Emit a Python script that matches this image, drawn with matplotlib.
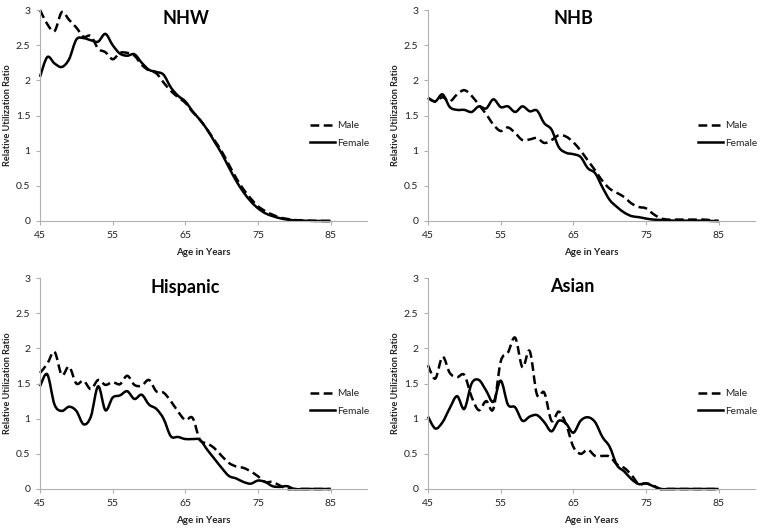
import numpy as np
import matplotlib
matplotlib.use("Agg")
import matplotlib.pyplot as plt
from matplotlib.path import Path
from matplotlib.patches import PathPatch
from matplotlib.lines import Line2D

plt.rcParams['font.family'] = ['Lato', 'DejaVu Sans']

ages = np.arange(45, 86)

nhwMale = [3.0, 2.8, 2.7, 2.97, 2.86, 2.75, 2.62, 2.63, 2.45, 2.4, 2.3, 2.39, 2.39, 2.35, 2.22, 2.14, 2.1,
           1.97, 1.85, 1.76, 1.68, 1.55, 1.44, 1.3, 1.15, 0.99, 0.8, 0.61, 0.45, 0.32, 0.21, 0.14, 0.09,
           0.05, 0.03, 0.015, 0.008, 0.004, 0.002, 0.001, 0.0]
nhwFemale = [2.05, 2.33, 2.24, 2.19, 2.3, 2.58, 2.6, 2.57, 2.55, 2.66, 2.5, 2.38, 2.35, 2.37, 2.25, 2.15,
             2.12, 2.08, 1.9, 1.78, 1.7, 1.56, 1.44, 1.3, 1.13, 0.96, 0.76, 0.57, 0.41, 0.28, 0.18, 0.11,
             0.07, 0.04, 0.02, 0.01, 0.005, 0.003, 0.001, 0.0, 0.0]
nhbMale = [1.75, 1.7, 1.76, 1.7, 1.8, 1.86, 1.78, 1.65, 1.52, 1.37, 1.28, 1.33, 1.25, 1.15, 1.16, 1.18,
           1.11, 1.15, 1.22, 1.2, 1.12, 1.0, 0.86, 0.72, 0.57, 0.46, 0.4, 0.34, 0.25, 0.2, 0.18, 0.1, 0.04,
           0.02, 0.02, 0.02, 0.02, 0.02, 0.02, 0.01, 0.0]
nhbFemale = [1.75, 1.7, 1.8, 1.62, 1.58, 1.58, 1.55, 1.63, 1.6, 1.73, 1.62, 1.63, 1.55, 1.63, 1.56, 1.57,
             1.39, 1.3, 1.05, 0.97, 0.95, 0.91, 0.75, 0.68, 0.48, 0.3, 0.2, 0.12, 0.07, 0.055, 0.035, 0.02,
             0.015, 0.01, 0.005, 0.005, 0.005, 0.005, 0.005, 0.0, 0.0]
hispMale = [1.65, 1.78, 1.95, 1.62, 1.74, 1.5, 1.54, 1.42, 1.55, 1.48, 1.52, 1.49, 1.61, 1.48, 1.47, 1.55,
            1.39, 1.37, 1.25, 1.1, 0.98, 1.01, 0.7, 0.65, 0.58, 0.47, 0.37, 0.32, 0.3, 0.25, 0.18, 0.1, 0.1,
            0.05, 0.0, 0.0, 0.0, 0.0, 0.0, 0.0, 0.0]
hispFemale = [1.46, 1.63, 1.2, 1.11, 1.17, 1.11, 0.92, 1.03, 1.46, 1.12, 1.3, 1.33, 1.39, 1.28, 1.34, 1.2,
              1.14, 1.0, 0.75, 0.74, 0.71, 0.71, 0.7, 0.56, 0.43, 0.3, 0.185, 0.15, 0.1, 0.076, 0.12, 0.1,
              0.04, 0.03, 0.04, 0.0, 0.0, 0.0, 0.0, 0.0, 0.0]
asianMale = [1.76, 1.57, 1.88, 1.65, 1.59, 1.62, 1.31, 1.12, 1.25, 1.14, 1.81, 1.94, 2.15, 1.73, 1.96, 1.34,
             1.37, 0.97, 1.1, 0.92, 0.6, 0.5, 0.56, 0.47, 0.47, 0.46, 0.35, 0.3, 0.2, 0.07, 0.08, 0.05, 0.0,
             0.0, 0.0, 0.0, 0.0, 0.0, 0.0, 0.0, 0.0]
asianFemale = [1.03, 0.86, 0.95, 1.15, 1.32, 1.14, 1.5, 1.55, 1.4, 1.24, 1.54, 1.2, 1.16, 0.97, 1.03, 1.05,
               0.95, 0.82, 0.97, 0.93, 0.8, 0.97, 1.02, 0.95, 0.74, 0.6, 0.34, 0.25, 0.14, 0.07, 0.08, 0.04,
               0.0, 0.0, 0.0, 0.0, 0.0, 0.0, 0.0, 0.0, 0.0]

titles = ["NHW", "NHB", "Hispanic", "Asian"]
maleList = [nhwMale, nhbMale, hispMale, asianMale]
femaleList = [nhwFemale, nhbFemale, hispFemale, asianFemale]


def smoothPath(x, y):
    # excel style smoothed line: bezier segments through every point
    x = np.asarray(x, float)
    y = np.asarray(y, float)
    px = np.concatenate([[x[0]], x, [x[-1]]])
    py = np.concatenate([[y[0]], y, [y[-1]]])
    verts = [(x[0], y[0])]
    codes = [Path.MOVETO]
    for i in range(len(x) - 1):
        j = i + 1
        c1 = (px[j] + (px[j + 1] - px[j - 1]) / 6.0, py[j] + (py[j + 1] - py[j - 1]) / 6.0)
        c2 = (px[j + 1] - (px[j + 2] - px[j]) / 6.0, py[j + 1] - (py[j + 2] - py[j]) / 6.0)
        verts += [c1, c2, (x[i + 1], y[i + 1])]
        codes += [Path.CURVE4] * 3
    return Path(verts, codes)


W, H = 762, 529
fig = plt.figure(figsize=(W / 100, H / 100), dpi=100)

lefts = [40, 428, 40, 428]
tops = [10, 10, 278, 278]
titleX = [186, 573, 185, 572]
titleY = [18, 18, 287, 287]
axW, axH = 327, 211

lw = 1.8
dash = (0, (3.5, 1.8))
axisColor = '#b0b0b0'
textColor = '#222222'

for k in range(4):
    ax = fig.add_axes([lefts[k] / W, 1 - (tops[k] + axH) / H, axW / W, axH / H])
    for ser, ls in [(maleList[k], dash), (femaleList[k], '-')]:
        patch = PathPatch(smoothPath(ages, ser), fill=False, edgecolor='black', lw=lw,
                          linestyle=ls, transform=ax.transData, clip_on=False, capstyle='butt')
        ax.add_patch(patch)
    ax.set_xlim(45, 90)
    ax.set_ylim(0, 3)
    ax.set_xticks([45, 55, 65, 75, 85])
    ax.set_yticks([0, 0.5, 1, 1.5, 2, 2.5, 3])
    ax.set_yticklabels(["0", "0.5", "1", "1.5", "2", "2.5", "3"])
    ax.spines['top'].set_visible(False)
    ax.spines['right'].set_visible(False)
    ax.spines['left'].set_color(axisColor)
    ax.spines['bottom'].set_color(axisColor)
    ax.tick_params(axis='both', direction='out', length=3, width=0.8, color=axisColor,
                   labelsize=7.5, labelcolor=textColor)
    ax.tick_params(axis='y', pad=4)
    ax.tick_params(axis='x', pad=4)
    ax.set_xlabel("Age in Years", fontsize=7, fontweight='bold', color=textColor)
    ax.xaxis.set_label_coords(0.5, -27 / axH)
    ax.set_ylabel("Relative Utilization Ratio", fontsize=6.6, fontweight='bold', color=textColor)
    ax.yaxis.set_label_coords(-28 / axW, 0.5)
    fig.text(titleX[k] / W, 1 - titleY[k] / H, titles[k], fontsize=13, fontweight='bold',
             ha='center', va='center', color='black')
    handles = [Line2D([], [], color='black', lw=lw, linestyle=dash),
               Line2D([], [], color='black', lw=lw, linestyle='-')]
    ax.legend(handles, ["Male", "Female"], loc='center left', bbox_to_anchor=(0.826, 0.41),
              frameon=False, fontsize=7.3, handlelength=2.5, handletextpad=0.15,
              labelspacing=0.8, borderpad=0, borderaxespad=0, labelcolor=textColor)

fig.savefig("out.png", dpi=100)
